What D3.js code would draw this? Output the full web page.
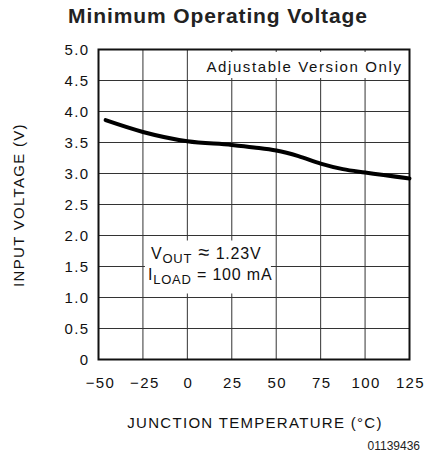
<!DOCTYPE html>
<meta charset="UTF-8">
<style>
    body { margin: 0; background: #fff; }
    text { font-family: "Liberation Sans", Arial, sans-serif; fill: #111; }
    .tech { font-size: 15px; letter-spacing: 1.4px; }
    .grid line { stroke: #333; stroke-width: 1px; }
    .line { fill: none; stroke: #000; stroke-width: 4px; stroke-linecap: round; }
</style>
<body>
<div id="chart"></div>
<script src="https://d3js.org/d3.v7.min.js"></script>
<script>

// curve
var temps = [-46, -25, 0, 25, 37.5, 50, 62.5, 75, 87.5, 100, 125];
var volts = [3.86, 3.67, 3.52, 3.46, 3.42, 3.37, 3.28, 3.16, 3.07, 3.015, 2.92];

// tick labels
var xTicks = [-50, -25, 0, 25, 50, 75, 100, 125];
var yTicks = [0, 0.5, 1.0, 1.5, 2.0, 2.5, 3.0, 3.5, 4.0, 4.5, 5.0];

var width = 431, height = 459;
var margin = {top: 49.5, right: 21.5, bottom: 99.5, left: 98.5};
var w = width - margin.left - margin.right,
    h = height - margin.top - margin.bottom;

var x = d3.scaleLinear().domain([-50, 125]).range([0, w]);
var y = d3.scaleLinear().domain([0, 5]).range([h, 0]);

var svg = d3.select("#chart").append("svg")
    .attr("width", width)
    .attr("height", height);

// title
svg.append("text")
    .attr("x", 218).attr("y", 23)
    .attr("text-anchor", "middle")
    .style("font-size", "21px").style("font-weight", "bold")
    .style("letter-spacing", "0.9px")
    .style("fill", "#222")
    .text("Minimum Operating Voltage");

var g = svg.append("g")
    .attr("transform", "translate(" + margin.left + "," + margin.top + ")");

// grid
var grid = g.append("g").attr("class", "grid");
grid.selectAll(".vx").data(xTicks.slice(1, -1)).enter().append("line")
    .attr("x1", d => x(d)).attr("x2", d => x(d))
    .attr("y1", 0).attr("y2", h);
grid.selectAll(".hy").data(yTicks.slice(1, -1)).enter().append("line")
    .attr("x1", 0).attr("x2", w)
    .attr("y1", d => y(d)).attr("y2", d => y(d));

// white boxes behind the notes
g.append("rect")
    .attr("x", x(0) + 1.5).attr("y", 2.5)
    .attr("width", w - x(0) - 4).attr("height", 26)
    .attr("fill", "#fff");
g.append("rect")
    .attr("x", x(-25) + 2).attr("y", 191)
    .attr("width", 126).attr("height", 53)
    .attr("fill", "#fff");

// frame
g.append("rect")
    .attr("width", w).attr("height", h)
    .attr("fill", "none").attr("stroke", "#111").attr("stroke-width", 2);

// curve
var valueline = d3.line()
    .x(function(d, i) { return x(temps[i]); })
    .y(function(d) { return y(d); })
    .curve(d3.curveMonotoneX);

g.append("path")
    .data([volts])
    .attr("class", "line")
    .attr("d", valueline);

// y tick labels
g.selectAll(".yl").data(yTicks).enter().append("text")
    .attr("class", "tech")
    .attr("x", -9).attr("y", d => y(d))
    .attr("dy", "0.36em")
    .attr("text-anchor", "end")
    .text(d => d === 0 ? "0" : d3.format(".1f")(d));

// x tick labels
g.selectAll(".xl").data(xTicks).enter().append("text")
    .attr("class", "tech")
    .attr("x", d => x(d) + (d < 0 ? 2 : 1)).attr("y", h + 28)
    .attr("text-anchor", "middle")
    .text(d => d < 0 ? "\u2212" + Math.abs(d) : d);

// axis titles
svg.append("text")
    .attr("class", "tech")
    .attr("x", 255).attr("y", 428)
    .attr("text-anchor", "middle")
    .style("letter-spacing", "1.3px")
    .text("JUNCTION TEMPERATURE (\u00b0C)");

svg.append("text")
    .attr("class", "tech")
    .attr("transform", "translate(24,205) rotate(-90)")
    .attr("text-anchor", "middle")
    .style("letter-spacing", "1.3px")
    .text("INPUT VOLTAGE (V)");

// notes
g.append("text")
    .attr("class", "tech")
    .attr("x", w - 7).attr("y", 22)
    .attr("text-anchor", "end")
    .style("letter-spacing", "1.6px")
    .text("Adjustable Version Only");

var n1 = g.append("text").attr("class", "tech")
    .style("font-size", "16px").style("letter-spacing", "0.8px")
    .attr("x", x(-25) + 8).attr("y", 209);
n1.append("tspan").text("V");
n1.append("tspan").attr("dy", 4).style("font-size", "13px").text("OUT");
n1.append("tspan").attr("dy", -4).style("font-size", "20px").text(" \u2248");
n1.append("tspan").text(" 1.23V");

var n2 = g.append("text").attr("class", "tech")
    .style("font-size", "16px").style("letter-spacing", "0.8px")
    .attr("x", x(-25) + 5).attr("y", 230);
n2.append("tspan").text("I");
n2.append("tspan").attr("dy", 4).style("font-size", "13px").text("LOAD");
n2.append("tspan").attr("dy", -4).text(" = 100 mA");

// figure number
svg.append("text")
    .attr("x", 420).attr("y", 450)
    .attr("text-anchor", "end")
    .style("font-size", "12px")
    .style("fill", "#222")
    .text("01139436");

</script>
</body>
